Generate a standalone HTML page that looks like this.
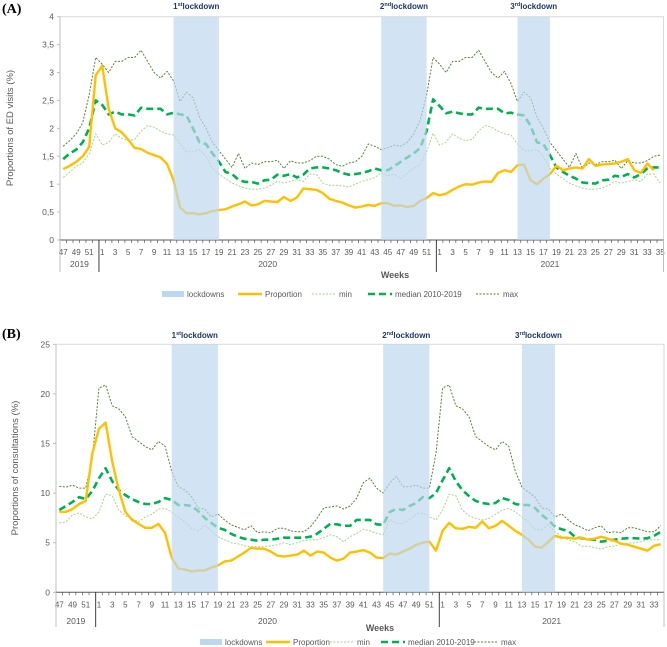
<!DOCTYPE html>
<html><head><meta charset="utf-8"><style>
html,body{margin:0;padding:0;background:#fff;}
svg{display:block;font-family:"Liberation Sans",sans-serif;}
</style></head><body>
<svg id="root" width="667" height="647" viewBox="0 0 667 647"></svg>
<script>
// ---------- Panel A data (ED visits) ----------
const propA = [1.27,1.33,1.40,1.50,1.67,2.95,
3.12,2.35,2.0,1.93,1.80,1.65,1.63,1.56,1.52,1.48,1.36,1.07,0.58,0.48,0.48,0.46,0.48,0.52,0.54,0.55,0.60,0.64,0.69,0.62,0.64,0.70,0.69,0.68,0.77,0.70,0.76,0.92,0.91,0.90,0.84,0.74,0.70,0.67,0.62,0.58,0.60,0.63,0.61,0.66,0.66,0.61,0.62,0.59,0.61,0.70,0.75,0.84,
0.80,0.83,0.90,0.96,1.00,0.99,1.03,1.05,1.04,1.20,1.25,1.22,1.34,1.35,1.07,1.0,1.10,1.18,1.33,1.25,1.28,1.30,1.28,1.45,1.33,1.35,1.36,1.37,1.40,1.45,1.25,1.20,1.37,1.25];
const medA = [1.45,1.55,1.62,1.75,2.0,2.5,
2.42,2.25,2.3,2.25,2.25,2.23,2.37,2.35,2.35,2.35,2.25,2.28,2.25,2.23,2.0,1.75,1.72,1.55,1.40,1.22,1.18,1.08,1.04,1.04,1.01,1.07,1.08,1.17,1.15,1.18,1.12,1.17,1.28,1.30,1.30,1.28,1.25,1.20,1.17,1.18,1.20,1.23,1.28,1.25,1.25,1.32,1.40,1.48,1.55,1.65,1.95,2.52,
2.40,2.27,2.30,2.27,2.25,2.25,2.37,2.35,2.35,2.35,2.27,2.28,2.25,2.23,2.05,1.75,1.72,1.52,1.30,1.22,1.15,1.10,1.03,1.02,1.01,1.07,1.08,1.15,1.13,1.18,1.12,1.18,1.28,1.30,1.30];
const maxA = [1.68,1.78,1.9,2.1,2.6,3.27,
3.15,3.0,3.2,3.2,3.27,3.27,3.4,3.2,3.0,2.9,3.02,2.85,2.48,2.65,2.55,2.2,2.0,1.75,1.6,1.45,1.3,1.55,1.28,1.38,1.35,1.4,1.4,1.43,1.28,1.42,1.38,1.38,1.42,1.5,1.5,1.45,1.35,1.32,1.38,1.4,1.5,1.72,1.68,1.62,1.65,1.7,1.68,1.75,1.9,2.15,2.6,3.27,
3.15,3.0,3.2,3.2,3.27,3.27,3.4,3.2,3.0,2.9,3.02,2.8,2.48,2.65,2.55,2.2,2.0,1.75,1.6,1.45,1.3,1.55,1.28,1.38,1.35,1.4,1.4,1.43,1.28,1.42,1.38,1.38,1.42,1.5,1.52];
const minA = [1.12,1.22,1.32,1.38,1.55,1.9,
1.7,1.75,1.9,1.82,1.78,1.8,1.95,2.05,2.02,1.95,1.9,1.88,1.72,1.58,1.58,1.62,1.5,1.28,1.18,1.1,1.02,0.97,0.93,0.91,0.91,0.93,0.98,1.05,1.02,1.05,1.08,1.05,1.18,1.18,1.02,0.98,0.98,0.97,0.95,1.0,1.05,1.08,1.12,1.2,1.15,1.18,1.1,1.2,1.28,1.35,1.58,1.91,
1.7,1.75,1.9,1.82,1.78,1.8,1.95,2.05,2.02,1.95,1.9,1.88,1.72,1.6,1.6,1.62,1.5,1.28,1.18,1.1,1.02,0.97,0.93,0.91,0.91,0.93,0.98,1.05,1.02,1.05,1.08,1.05,1.18,1.18,1.02];
const ticksA = ["0","0,5","1","1,5","2","2,5","3","3,5","4"];
const tickValsA = [0,0.5,1,1.5,2,2.5,3,3.5,4];
const lockStartA = [17,49,70];
const lockEndA = [24,56,75];

// ---------- Panel B data (consultations) ----------
const propB = [8.1,8.1,8.4,8.9,9.2,14.0,
16.5,17.1,13.2,10.3,8.1,7.3,6.9,6.5,6.5,6.9,6.0,3.5,2.4,2.3,2.1,2.2,2.2,2.5,2.7,3.1,3.2,3.6,4.0,4.5,4.4,4.4,4.1,3.7,3.6,3.7,3.8,4.2,3.7,4.1,4.0,3.5,3.2,3.4,4.0,4.1,4.25,4.0,3.5,3.45,3.9,3.8,4.1,4.4,4.8,5.0,5.1,4.2,
6.2,7.0,6.45,6.4,6.6,6.5,7.15,6.45,6.7,7.2,6.7,6.2,5.8,5.3,4.6,4.5,5.1,5.7,5.5,5.5,5.4,5.5,5.3,5.4,5.6,5.4,5.2,4.9,4.8,4.6,4.4,4.2,4.7,4.85];
const medB = [8.3,8.7,9.1,9.6,9.4,10.2,
11.5,12.5,11.2,10.3,9.8,9.4,9.1,8.9,8.9,9.1,9.5,9.3,8.8,8.8,8.7,8.2,7.5,7.0,6.5,6.3,5.9,5.6,5.4,5.3,5.2,5.3,5.3,5.4,5.5,5.5,5.5,5.5,5.6,5.9,6.4,6.9,6.85,6.7,6.7,7.3,7.3,7.3,6.85,6.8,8.1,8.4,8.3,8.7,9.0,9.6,9.5,10.0,
11.3,12.5,11.2,10.3,9.7,9.2,9.0,8.9,9.0,9.5,9.3,8.9,8.8,8.8,8.5,7.8,7.3,6.6,6.35,6.2,5.6,5.45,5.35,5.3,5.1,5.2,5.3,5.4,5.45,5.45,5.4,5.45,5.7,6.1];
const maxB = [10.7,10.6,10.8,10.5,10.5,13.5,
20.6,20.9,18.8,18.5,17.7,15.7,15.2,14.7,14.35,15.2,14.75,12.2,10.65,10.3,9.65,8.5,8.4,7.6,7.9,7.3,6.8,6.55,6.3,6.7,6.0,6.1,6.0,6.45,6.45,6.2,6.1,6.1,6.6,7.45,8.5,8.6,8.7,8.4,8.7,9.5,11.05,11.5,10.5,10.0,11.0,11.7,10.65,10.65,10.8,10.5,10.5,14.0,
20.6,20.9,18.8,18.5,17.7,15.7,15.2,14.7,14.35,15.2,14.75,12.2,10.6,10.1,9.6,8.5,8.4,7.6,7.9,7.3,6.8,6.55,6.2,6.5,6.7,6.0,6.1,6.0,6.5,6.5,6.3,6.1,6.1,6.7];
const minB = [7.0,7.1,7.8,8.0,7.6,7.4,
8.1,9.9,9.75,8.3,7.7,7.45,7.1,7.6,7.85,8.4,8.45,8.1,7.6,7.1,6.45,6.2,6.8,6.2,5.6,5.3,5.0,4.9,4.7,4.6,4.6,4.6,4.7,4.8,5.0,4.8,5.0,5.2,5.3,5.3,5.5,5.8,5.6,5.1,5.6,5.95,6.35,6.2,5.95,5.8,7.35,6.95,6.95,7.3,7.9,8.0,7.6,7.3,
8.3,9.9,9.75,8.3,7.7,7.45,7.3,7.45,7.85,8.3,8.45,8.1,7.6,7.1,6.35,6.3,6.8,6.1,5.6,5.3,5.1,4.65,4.65,4.5,4.35,4.6,4.65,4.9,4.95,5.0,5.1,5.3,5.3,5.3];
const ticksB = ["0","5","10","15","20","25"];
const tickValsB = [0,5,10,15,20,25];
const lockStartB = [17,49,70];
const lockEndB = [24,56,75];
const lockLabels = ["1","2","3"];
const lockSup = ["st","nd","rd"];

const NS = "http://www.w3.org/2000/svg";
const root = document.getElementById('root');
function mk(tag, attrs, parent, text){
  const e = document.createElementNS(NS, tag);
  for (const k in attrs) e.setAttribute(k, attrs[k]);
  if (text !== undefined) e.textContent = text;
  (parent||root).appendChild(e);
  return e;
}

function weekLabels(nLast){
  const w = [];
  for (let k=47;k<=52;k++) w.push(k);
  for (let k=1;k<=52;k++) w.push(k);
  for (let k=1;k<=nLast;k++) w.push(k);
  return w;
}

function drawPanel(c){
  const g = mk('g', {}, root);
  
  
  const n = c.nCat;
  const step = (c.right - c.left)/n;
  const xOf = i => c.left + (i+0.5)*step;
  const yOf = v => c.y0 - v*(c.y0 - c.yTop)/c.yMax;

  const fr = mk('path', {d:`M${c.left},${c.yTop}H${c.right}V${c.y0}`, fill:'none', stroke:'#d9d9d9', 'stroke-width':1}, g);
  
  

  c.tickVals.forEach((v,k)=>{
    const t = mk('text', {x:c.left-6, y:yOf(v)+3, 'text-anchor':'end', 'font-size':8.5, fill:'#595959'}, g, c.ticks[k]);
    
    
    mk('line', {x1:c.left-3, x2:c.left, y1:yOf(v), y2:yOf(v), stroke:'#bfbfbf'}, g);
  });
  const ya = mk('line', {x1:c.left, x2:c.left, y1:c.yTop, y2:c.y0, stroke:'#bfbfbf'}, g);
  
  
  const xa = mk('line', {x1:c.left, x2:c.right, y1:c.y0, y2:c.y0, stroke:'#595959'}, g);
  
  
  for (let i=0;i<=n;i++){
    mk('line', {x1:c.left+i*step, x2:c.left+i*step, y1:c.y0, y2:c.y0+3, stroke:'#595959', 'stroke-width':0.7}, g);
  }
  const wl = weekLabels(n-58);
  for (let i=0;i<n;i+=2){
    const t = mk('text', {x:xOf(i), y:c.y0+15, 'text-anchor':'middle', 'font-size':8, fill:'#595959'}, g, String(wl[i]));
    
    
  }
  const seps = [0, 6, 58, n];
  seps.forEach((s,k)=>{
    const x = c.left + s*step;
    mk('line', {x1:x, x2:x, y1:c.y0, y2:c.yearBottom, stroke: (k===1||k===2)?'#404040':'#bfbfbf', 'stroke-width':1}, g);
  });
  ['2019','2020','2021'].forEach((yr,k)=>{
    const cx = c.left + (seps[k]+seps[k+1])/2*step;
    const t = mk('text', {x:cx, y:c.yearY, 'text-anchor':'middle', 'font-size':8.5, fill:'#595959'}, g, yr);
    
    
  });

  function line(vals, attrs, name){
    const d = vals.map((v,i)=>(i?'L':'M')+xOf(i).toFixed(1)+','+yOf(v).toFixed(1)).join('');
    const p = mk('path', Object.assign({d, fill:'none', 'stroke-linejoin':'round'}, attrs), g);
    
    
  }
  line(c.min, {stroke:'#a9d18e', 'stroke-width':1, 'stroke-dasharray':'2,1.5'}, 'min-line');
  line(c.max, {stroke:'#548235', 'stroke-width':1, 'stroke-dasharray':'2,1.5'}, 'max-line');
  line(c.med, {stroke:'#00b050', 'stroke-width':2.6, 'stroke-dasharray':'7,4'}, 'median-line');
  line(c.prop, {stroke:'#ffc000', 'stroke-width':2.4}, 'proportion-line');

  c.lockStart.forEach((s,k)=>{
    const x1 = xOf(s), x2 = xOf(c.lockEnd[k]);
    const r = mk('rect', {x:x1, y:c.yTop, width:x2-x1, height:c.y0-c.yTop, fill:'#bdd7ee', opacity:0.68}, g);
    
    
    const t = mk('text', {x:(x1+x2)/2, y:c.titleY, 'text-anchor':'middle', 'font-size':8, 'font-weight':'bold', fill:'#1f3864'}, g);
    
    
    mk('tspan', {}, t, lockLabels[k]);
    mk('tspan', {'font-size':5.5, dy:-3}, t, lockSup[k]);
    mk('tspan', {dy:3}, t, 'lockdown');
  });

  const yt = mk('text', {x:0, y:0, transform:`translate(${c.yTitleX},${c.yTitleY}) rotate(-90)`, 'text-anchor':'middle', 'font-size':9.5, fill:'#595959'}, g, c.yTitle);
  
  
  const xt = mk('text', {x:c.weeksX, y:c.weeksY, 'text-anchor':'middle', 'font-size':9, 'font-weight':'bold', fill:'#595959'}, g, 'Weeks');
  
  
  const pl = mk('text', {x:2, y:c.panelY, 'font-size':14, 'font-weight':'bold', 'font-family':'Liberation Serif, serif', fill:'#000'}, g, c.panel);
  
  

  const L = c.leg, ly = c.legY;
  const lg = mk('g', {}, g);
  
  
  mk('rect', {x:L[0], y:ly-3, width:22, height:6, fill:'#bdd7ee'}, lg);
  mk('text', {x:L[0]+25, y:ly+3, 'font-size':8, fill:'#595959'}, lg, 'lockdowns');
  mk('line', {x1:L[1], x2:L[1]+24, y1:ly, y2:ly, stroke:'#ffc000', 'stroke-width':2.4}, lg);
  mk('text', {x:L[1]+27, y:ly+3, 'font-size':8, fill:'#595959'}, lg, 'Proportion');
  mk('line', {x1:L[2], x2:L[2]+24, y1:ly, y2:ly, stroke:'#a9d18e', 'stroke-width':1, 'stroke-dasharray':'2,1.5'}, lg);
  mk('text', {x:L[2]+27, y:ly+3, 'font-size':8, fill:'#595959'}, lg, 'min');
  mk('line', {x1:L[3], x2:L[3]+24, y1:ly, y2:ly, stroke:'#00b050', 'stroke-width':2.6, 'stroke-dasharray':'7,4'}, lg);
  mk('text', {x:L[3]+27, y:ly+3, 'font-size':8, fill:'#595959'}, lg, 'median 2010-2019');
  mk('line', {x1:L[4], x2:L[4]+24, y1:ly, y2:ly, stroke:'#548235', 'stroke-width':1, 'stroke-dasharray':'2,1.5'}, lg);
  mk('text', {x:L[4]+27, y:ly+3, 'font-size':8, fill:'#595959'}, lg, 'max');
}

drawPanel({name:'panel-a-ed-visits', panel:'(A)', panelY:13, nCat:93, left:60, right:663.5, yTop:16.7, y0:240, yMax:4,
  prop:propA, med:medA, max:maxA, min:minA, ticks:ticksA, tickVals:tickValsA,
  lockStart:lockStartA, lockEnd:lockEndA, titleY:9, yearBottom:272, yearY:267,
  yTitle:'Proportions of ED visits (%)', yTitleX:13, yTitleY:128, weeksX:395, weeksY:278,
  leg:[162,238,312,368,476], legY:294});
drawPanel({name:'panel-b-consultations', panel:'(B)', panelY:338, nCat:92, left:56, right:664, yTop:344.3, y0:592.3, yMax:25,
  prop:propB, med:medB, max:maxB, min:minB, ticks:ticksB, tickVals:tickValsB,
  lockStart:lockStartB, lockEnd:lockEndB, titleY:338, yearBottom:627, yearY:624,
  yTitle:'Proportions of consultations (%)', yTitleX:18, yTitleY:468, weeksX:380, weeksY:631,
  leg:[200,266,330,381,474], legY:642});
</script>
</body></html>
